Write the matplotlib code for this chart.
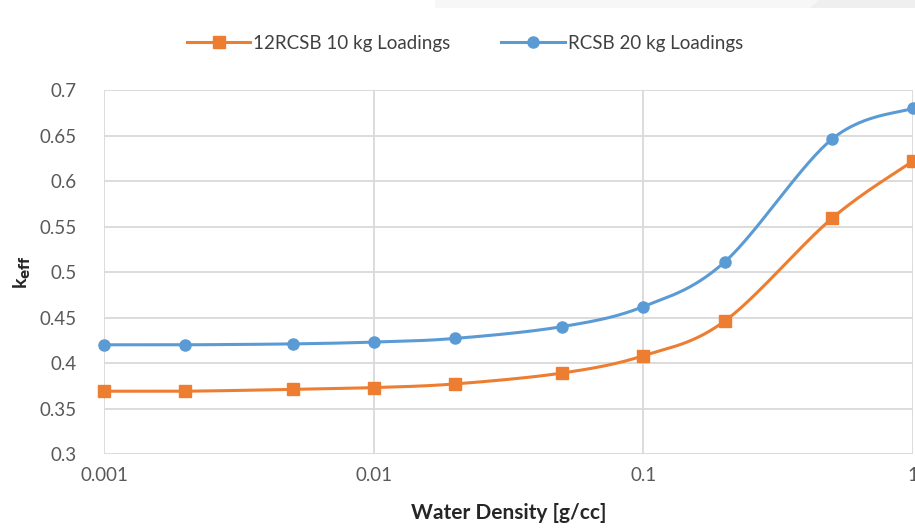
import numpy as np
import matplotlib
matplotlib.use("Agg")
import matplotlib.pyplot as plt
from matplotlib.patches import Polygon

# data
density = [0.001, 0.002, 0.005, 0.01, 0.02, 0.05, 0.1, 0.2, 0.5, 1.0]
keff_10kg = [0.369, 0.369, 0.371, 0.373, 0.377, 0.389, 0.408, 0.446, 0.559, 0.622]
keff_20kg = [0.420, 0.420, 0.421, 0.423, 0.427, 0.440, 0.462, 0.511, 0.646, 0.680]
labels = ["12RCSB 10 kg Loadings", "RCSB 20 kg Loadings"]
xtick_vals = [0.001, 0.01, 0.1, 1]
xtick_text = ["0.001", "0.01", "0.1", "1"]

orange = "#ed7d31"
blue = "#5b9bd5"
grey = "#595959"

plt.rcParams['font.family'] = ['Lato', 'DejaVu Sans']


def smooth(xs, ys, n=30):
    # catmull-rom through the points in log-x space, roughly like excel's smoothed line
    u = np.log10(xs)
    v = np.array(ys) * 3.37
    pts = np.column_stack([u, v])
    pts = np.vstack([pts[0], pts, pts[-1]])
    out = []
    for i in range(1, len(pts) - 2):
        p0, p1, p2, p3 = pts[i - 1], pts[i], pts[i + 1], pts[i + 2]
        c1 = p1 + (p2 - p0) / 6
        c2 = p2 - (p3 - p1) / 6
        t = np.linspace(0, 1, n)[:, None]
        seg = ((1 - t) ** 3) * p1 + 3 * ((1 - t) ** 2) * t * c1 + 3 * (1 - t) * t ** 2 * c2 + t ** 3 * p2
        out.append(seg)
    out = np.vstack(out)
    return 10 ** out[:, 0], out[:, 1] / 3.37


fig = plt.figure(figsize=(9.15, 5.31), dpi=100)
ax = fig.add_axes([0.1137, 0.145, 0.8843, 0.6855])

# faint grey strip at the top of the screenshot
fig.patches.append(Polygon([[0.475, 1.0], [1.0, 1.0], [1.0, 0.985], [0.475, 0.985]],
                           closed=True, transform=fig.transFigure, facecolor="#f7f7f7",
                           edgecolor="none", zorder=0))
fig.patches.append(Polygon([[0.895, 1.0], [1.0, 1.0], [1.0, 0.985], [0.885, 0.985]],
                           closed=True, transform=fig.transFigure, facecolor="#efefef",
                           edgecolor="none", zorder=0))

sx, sy = smooth(density, keff_10kg)
ax.plot(sx, sy, color=orange, lw=2.2, zorder=3, clip_on=False)
ax.plot(density, keff_10kg, ls="none", marker="s", ms=8, color=orange, zorder=4, clip_on=False)
sx, sy = smooth(density, keff_20kg)
ax.plot(sx, sy, color=blue, lw=2.2, zorder=3, clip_on=False)
ax.plot(density, keff_20kg, ls="none", marker="o", ms=8, color=blue, zorder=4, clip_on=False)

# legend handles
h1, = ax.plot([], [], color=orange, lw=2.2, marker="s", ms=8)
h2, = ax.plot([], [], color=blue, lw=2.2, marker="o", ms=8)
fig.legend([h1, h2], labels, loc="center", bbox_to_anchor=(0.508, 0.919), ncol=2,
           frameon=False, fontsize=13.5, handlelength=3.4, columnspacing=2.7,
           handletextpad=0.15, labelcolor="#404040")

ax.set_xscale("log")
ax.set_xlim(0.001, 1)
ax.set_ylim(0.3, 0.7)
ax.set_xticks(xtick_vals)
ax.set_xticklabels(xtick_text)
ax.minorticks_off()
ax.set_yticks(np.arange(0.3, 0.701, 0.05))
ax.set_yticklabels(["0.3", "0.35", "0.4", "0.45", "0.5", "0.55", "0.6", "0.65", "0.7"])
ax.tick_params(axis="both", length=0, labelsize=13.5, labelcolor=grey)
ax.tick_params(axis="x", pad=9)
ax.tick_params(axis="y", pad=20)
ax.grid(True, color="#d9d9d9", lw=1.3)
ax.set_axisbelow(True)
for s in ax.spines.values():
    s.set_visible(False)

ax.set_xlabel("Water Density [g/cc]", fontsize=15, fontweight="bold", color="#262626", labelpad=14)
ax.set_ylabel(r"k$_{\mathbf{eff}}$", fontsize=14, fontweight="bold", color="#262626", labelpad=4)

fig.savefig("out.png", dpi=100)
